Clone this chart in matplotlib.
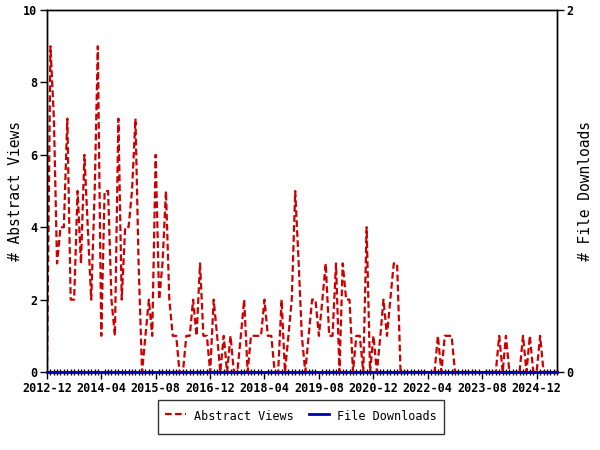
import numpy as np
import pandas as pd
import matplotlib
matplotlib.use('Agg')
import matplotlib.pyplot as plt

# monthly counts, starting 2012-12
views = [0, 9, 7, 3, 4, 4, 7, 2, 2, 5, 3, 6, 4, 2, 5, 9, 1,
         5, 5, 2, 1, 7, 2, 4, 4, 5, 7, 3, 0, 1, 2, 1, 6,
         2, 3, 5, 2, 1, 1, 0, 0, 1, 1, 2, 1, 3, 1, 1, 0,
         2, 1, 0, 1, 0, 1, 0, 0, 1, 2, 0, 1, 1, 1, 1, 2,
         1, 1, 0, 0, 2, 0, 1, 2, 5, 3, 1, 0, 1, 2, 2, 1,
         2, 3, 1, 1, 3, 0, 3, 2, 2, 0, 1, 1, 0, 4, 0, 1,
         0, 1, 2, 1, 2, 3, 3, 0, 0, 0, 0, 0, 0, 0, 0, 0,
         0, 0, 1, 0, 1, 1, 1, 0, 0, 0, 0, 0, 0, 0, 0, 0,
         0, 0, 0, 0, 1, 0, 1, 0, 0, 0, 0, 1, 0, 1, 0, 0,
         1, 0, 0, 0, 0, 0]
downloads = [0] * len(views)
months = pd.date_range('2012-12-01', periods=len(views), freq='MS')
major_step = 16

red = '#cc0000'
blue = '#0000b4'
mono = 'DejaVu Sans Mono'

fig = plt.figure(figsize=(6, 4.5), dpi=100)
ax = fig.add_axes([0.0783, 0.1733, 0.85, 0.8044])
ax2 = ax.twinx()

l1, = ax.plot(months, views, color=red, lw=1.6, linestyle=(0, (3, 1.5)),
              label='Abstract Views')
l2, = ax2.plot(months, downloads, color=blue, lw=2, label='File Downloads',
               clip_on=False, zorder=4)

ax.set_xlim(months[0], months[-1])
ax.set_ylim(0, 10)
ax2.set_ylim(0, 2)
ax.set_yticks([0, 2, 4, 6, 8, 10])
ax2.set_yticks([0, 2])

ticks = months[::major_step]
ax.set_xticks(ticks)
ax.set_xticklabels([d.strftime('%Y-%m') for d in ticks])
ax.set_xticks(months, minor=True)

for a in (ax, ax2):
    for s in a.spines.values():
        s.set_linewidth(1)
    a.tick_params(which='major', length=5, width=1, direction='out', pad=2)
    for lab in a.get_yticklabels() + a.get_xticklabels():
        lab.set_fontfamily(mono)
        lab.set_fontweight('bold')
        lab.set_fontsize(8.5)
ax.tick_params(axis='x', which='minor', length=4, width=1, direction='inout')

ax.set_ylabel('# Abstract Views', fontfamily=mono, fontsize=10.5, labelpad=0)
ax2.set_ylabel('# File Downloads', fontfamily=mono, fontsize=10.5, labelpad=3)

leg = fig.legend(handles=[l1, l2], loc='center', bbox_to_anchor=(0.502, 0.074),
                 ncol=2, frameon=True, fancybox=False, edgecolor='black',
                 prop={'family': mono, 'size': 8.5}, handlelength=1.7,
                 handletextpad=0.7, columnspacing=1.3, borderpad=0.6,
                 handleheight=2.2)
leg.get_frame().set_linewidth(1)

plt.savefig('out.png', dpi=100)
